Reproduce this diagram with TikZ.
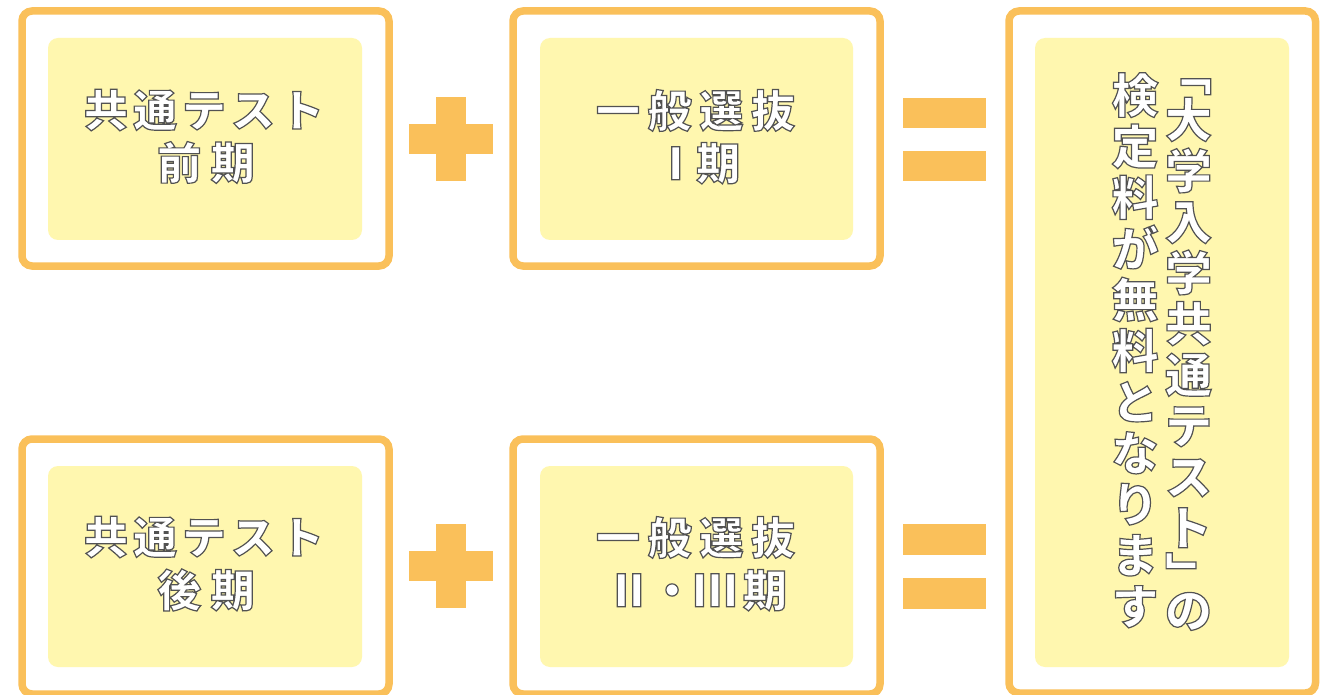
\documentclass[tikz,border=0pt]{standalone}
\usepackage{fontspec}
\IfFontExistsTF{Noto Sans CJK JP Black}{\setmainfont{Noto Sans CJK JP Black}}{\IfFontExistsTF{Noto Sans CJK JP Bold}{\setmainfont{Noto Sans CJK JP Bold}}{\setmainfont{Noto Sans CJK JP}}}
\definecolor{orng}{HTML}{FAC05A}
\definecolor{ylw}{HTML}{FFF7AF}
\newdimen\chsp
\def\spc#1{\spcfirst#1\relax}
\def\spcfirst#1{#1\spcrest}
\def\spcrest#1{\ifx#1\relax\else\kern\chsp#1\expandafter\spcrest\fi}
\newcommand\olt[1]{{\color{white}\special{pdf:literal direct 2 Tr 1.2 w 0.32 0.32 0.32 RG}#1\special{pdf:literal direct 0 Tr}}}
\begin{document}
\begin{tikzpicture}[x=1pt,y=-1pt,
  obox/.style={draw=orng, line width=7.5pt, rounded corners=10pt, fill=white},
  ibox/.style={fill=ylw, rounded corners=10pt},
  sym/.style={fill=orng},
  hl/.style={font=\fontsize{44}{44}\selectfont, inner sep=0pt, text height=38.7pt, text depth=5.3pt},
  vc/.style={font=\fontsize{47}{47}\selectfont, inner sep=0pt, text height=41.4pt, text depth=5.6pt}]
\useasboundingbox (0,0) rectangle (1328,695);
% outer frames
\draw[obox] (22,11) rectangle (389,266);
\draw[obox] (513,11) rectangle (880,266);
\draw[obox] (22,439) rectangle (389,694);
\draw[obox] (513,439) rectangle (880,694);
\draw[obox] (1009,11) rectangle (1315.5,693);
% inner panels
\fill[ibox] (48,38) rectangle (362,240);
\fill[ibox] (540,38) rectangle (853,240);
\fill[ibox] (48,466) rectangle (362,667);
\fill[ibox] (540,466) rectangle (853,667);
\fill[ibox] (1035,38) rectangle (1289,667);
% plus signs
\fill[sym] (436,97) rectangle (466,181);
\fill[sym] (409,124) rectangle (493,154);
\fill[sym] (436,524) rectangle (466,608);
\fill[sym] (409,551) rectangle (493,581);
% equals signs
\fill[sym] (903,97.7) rectangle (986,127.7);
\fill[sym] (903,151) rectangle (986,181);
\fill[sym] (903,524.3) rectangle (986,555);
\fill[sym] (903,578.3) rectangle (986,608.7);
% horizontal texts
\node[hl] (t1a) at (204,110) {\chsp=5pt\olt{\spc{共通テスト}}};
\node[hl] (t1b) at (206,162.5) {\chsp=9.5pt\olt{\spc{前期}}};
\node[hl] (t2a) at (695.5,110.5) {\chsp=7.7pt\olt{\spc{一般選抜}}};
\node[hl] (t2b) at (697,163) {\chsp=-1.5pt\olt{\spc{Ⅰ期}}};
\node[hl] (t3a) at (204,537) {\chsp=5pt\olt{\spc{共通テスト}}};
\node[hl] (t3b) at (206,590) {\chsp=9.5pt\olt{\spc{後期}}};
\node[hl] (t4a) at (695.5,537.5) {\chsp=7.7pt\olt{\spc{一般選抜}}};
\node[hl] (t4b) at (697,590) {\olt{Ⅱ\kern-1pt・\kern-1ptⅢ\kern6pt期}};
% vertical texts
\foreach \c [count=\i from 0] in {検,定,料,が,無,料,と,な,り,ま,す}
  \node[vc] (L\i) at (1135,95+51.1*\i) {\olt{\c}};
\node[vc,rotate=-90] (Rbo) at (1188.5,72.5) {\olt{「}};
\foreach \c [count=\i from 0] in {大,学,入,学,共,通,テ,ス,ト}
  \node[vc] (R\i) at (1188.5,119.5+51*\i) {\olt{\c}};
\node[vc,rotate=-90] (Rbc) at (1188.5,575) {\olt{」}};
\node[vc] (Rno) at (1188.5,610) {\olt{の}};
\end{tikzpicture}
\end{document}
